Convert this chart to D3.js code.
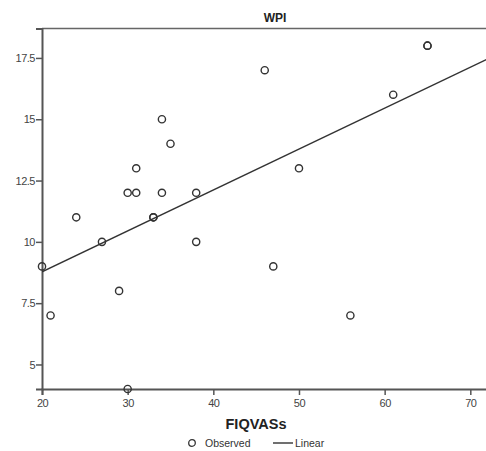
<!DOCTYPE html>
<html>
<head>
<meta charset="utf-8">
<script src="https://cdn.jsdelivr.net/npm/d3@7"></script>
<style>
  body { margin: 0; background: #fff; }
  text { font-family: "Liberation Sans", Arial, sans-serif; }
</style>
</head>
<body>
<div id="chart"></div>
<script>
// observed points (FIQVASs, WPI)
var fiqX = [20, 21, 24, 27, 29, 30, 30, 31, 31, 33, 33, 34, 34, 35, 38, 38, 46, 47, 50, 56, 61, 65, 65];
var wpiY = [9, 7, 11, 10, 8, 12, 4, 12, 13, 11, 11, 15, 12, 14, 12, 10, 17, 9, 13, 7, 16, 18, 18];
// linear fit line
var fitX = [20, 74.4];
var fitY = [8.78, 17.85];
var xTicks = [20, 30, 40, 50, 60, 70];
var yTicks = [5, 7.5, 10, 12.5, 15, 17.5];

var W = 486, H = 451;
var svg = d3.select("#chart").append("svg").attr("width", W).attr("height", H);

var x = d3.scaleLinear().domain([20, 74.4]).range([42, 508]);
var y = d3.scaleLinear().domain([4, 18.7]).range([389, 28.5]);

svg.append("defs").append("clipPath").attr("id", "plot")
  .append("rect").attr("x", 42).attr("y", 28.5).attr("width", 466).attr("height", 360.5);

// frame top
svg.append("line").attr("x1", 42).attr("x2", 508).attr("y1", 28.5).attr("y2", 28.5)
  .attr("stroke", "#666").attr("stroke-width", 1.5);

// axes
var xAxis = svg.append("g").attr("transform", "translate(0,389)")
  .call(d3.axisBottom(x).tickValues(xTicks).tickSize(6).tickPadding(4).tickFormat(d3.format("d")));
var yAxis = svg.append("g").attr("transform", "translate(42,0)")
  .call(d3.axisLeft(y).tickValues(yTicks).tickSize(6).tickPadding(1).tickFormat(function (d) { return String(d); }));

[xAxis, yAxis].forEach(function (g) {
  g.select(".domain").attr("stroke", "#555").attr("stroke-width", 2);
  g.selectAll(".tick line").attr("stroke", "#555").attr("stroke-width", 1.5);
  g.selectAll(".tick text").attr("fill", "#444").style("font-size", "11px")
    .style("font-family", "'Liberation Sans', Arial, sans-serif").style("letter-spacing", "-0.5px");
});

var plot = svg.append("g").attr("clip-path", "url(#plot)");

// fit line
plot.append("path")
  .datum(fitX.map(function (d, i) { return [d, fitY[i]]; }))
  .attr("d", d3.line().x(function (d) { return x(d[0]); }).y(function (d) { return y(d[1]); }))
  .attr("fill", "none").attr("stroke", "#333").attr("stroke-width", 1.4);

// points
svg.append("g").selectAll("circle")
  .data(fiqX.map(function (d, i) { return [d, wpiY[i]]; }))
  .enter().append("circle")
  .attr("cx", function (d) { return x(d[0]); })
  .attr("cy", function (d) { return y(d[1]); })
  .attr("r", 3.6)
  .attr("fill", "none").attr("stroke", "#333").attr("stroke-width", 1.4);

// titles
svg.append("text").attr("x", 275).attr("y", 22).attr("text-anchor", "middle")
  .style("font-size", "12px").style("font-weight", "bold").attr("fill", "#222").text("WPI");
svg.append("text").attr("x", 256).attr("y", 429).attr("text-anchor", "middle")
  .style("font-size", "14.5px").style("font-weight", "bold").attr("fill", "#222").text("FIQVASs");

// legend
var lg = svg.append("g").attr("transform", "translate(0,443)");
lg.append("circle").attr("cx", 192).attr("cy", 0).attr("r", 3.3)
  .attr("fill", "none").attr("stroke", "#333").attr("stroke-width", 1.3);
lg.append("text").attr("x", 205).attr("y", 4).style("font-size", "10.5px").attr("fill", "#333").text("Observed");
lg.append("line").attr("x1", 273).attr("x2", 293).attr("y1", 0).attr("y2", 0)
  .attr("stroke", "#333").attr("stroke-width", 1.4);
lg.append("text").attr("x", 295).attr("y", 4).style("font-size", "10.5px").attr("fill", "#333").text("Linear");
</script>
</body>
</html>
